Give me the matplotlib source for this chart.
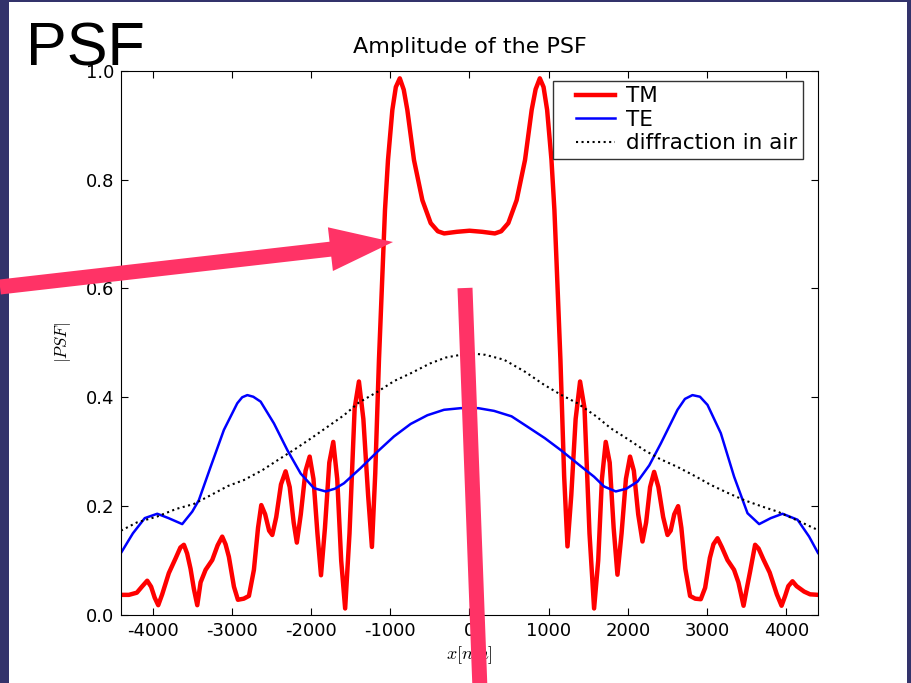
import matplotlib
matplotlib.use('Agg')
import matplotlib.pyplot as plt
from matplotlib.lines import Line2D
from matplotlib.legend_handler import HandlerLine2D
from matplotlib.patches import FancyArrow, Rectangle

# |PSF| for TM polarisation (x in nm)
tm_x = [-4400, -4300, -4200, -4130, -4069, -4020, -3975, -3930, -3880, -3796,
        -3711, -3650, -3606, -3565, -3522, -3480, -3437, -3395, -3332, -3248,
        -3180, -3122, -3080, -3038, -2974, -2924, -2850, -2785, -2722, -2670,
        -2629, -2580, -2530, -2490, -2440, -2380, -2322, -2270, -2220, -2180,
        -2130, -2070, -2018, -1970, -1920, -1875, -1825, -1770, -1720, -1670,
        -1620, -1570, -1515, -1450, -1396, -1340, -1280, -1232, -1190, -1143,
        -1093, -1067, -1029, -974, -930, -880, -830, -785, -701, -595,
        -490, -400, -320, -160, 0,
        160, 320, 400, 490, 595, 701, 785, 835, 888, 935,
        980, 1035, 1072, 1098, 1148, 1195, 1237, 1285, 1340, 1396,
        1452, 1515, 1573, 1625, 1672, 1720, 1770, 1820, 1868, 1920,
        1975, 2027, 2075, 2130, 2184, 2230, 2280, 2331, 2385, 2445,
        2500, 2540, 2585, 2634, 2675, 2725, 2785, 2850, 2920, 2975,
        3035, 3080, 3131, 3185, 3257, 3340, 3395, 3460, 3500, 3543,
        3606, 3650, 3711, 3790, 3880, 3940, 3985, 4025, 4078, 4130,
        4225, 4300, 4400]
tm_y = [0.037, 0.037, 0.041, 0.053, 0.063, 0.052, 0.032, 0.018, 0.038, 0.077,
        0.104, 0.124, 0.129, 0.113, 0.085, 0.048, 0.018, 0.060, 0.083, 0.101,
        0.128, 0.144, 0.130, 0.107, 0.052, 0.028, 0.030, 0.035, 0.083, 0.160,
        0.202, 0.185, 0.155, 0.147, 0.180, 0.240, 0.264, 0.235, 0.170, 0.133,
        0.185, 0.265, 0.291, 0.250, 0.150, 0.073, 0.160, 0.280, 0.318, 0.250,
        0.100, 0.012, 0.150, 0.380, 0.429, 0.360, 0.220, 0.125, 0.260, 0.469,
        0.652, 0.744, 0.836, 0.928, 0.970, 0.986, 0.965, 0.928, 0.836, 0.762,
        0.720, 0.705, 0.701, 0.704, 0.706,
        0.704, 0.701, 0.705, 0.720, 0.762, 0.836, 0.928, 0.966, 0.986, 0.970,
        0.928, 0.836, 0.744, 0.652, 0.469, 0.255, 0.126, 0.220, 0.360, 0.429,
        0.380, 0.150, 0.012, 0.100, 0.250, 0.318, 0.280, 0.160, 0.074, 0.150,
        0.250, 0.291, 0.265, 0.185, 0.135, 0.170, 0.235, 0.263, 0.235, 0.180,
        0.147, 0.155, 0.185, 0.200, 0.160, 0.085, 0.035, 0.030, 0.029, 0.050,
        0.105, 0.130, 0.141, 0.125, 0.101, 0.083, 0.060, 0.017, 0.048, 0.080,
        0.129, 0.122, 0.102, 0.078, 0.038, 0.017, 0.035, 0.053, 0.062, 0.053,
        0.043, 0.038, 0.037]

# |PSF| for TE polarisation
te_x = [-4400, -4250, -4100, -3942, -3800, -3627, -3500, -3417, -3269, -3101,
        -2932, -2870, -2805, -2730, -2637, -2469, -2300, -2132, -1964, -1816,
        -1700, -1585, -1374, -1163, -954, -743, -532, -322, -111, 0,
        111, 310, 531, 731, 950, 1152, 1374, 1573, 1700, 1847,
        1980, 2121, 2270, 2415, 2626, 2720, 2815, 2910, 3005, 3173,
        3341, 3510, 3657, 3804, 3952, 4142, 4288, 4400]
te_y = [0.114, 0.150, 0.178, 0.186, 0.178, 0.167, 0.190, 0.211, 0.272, 0.340,
        0.389, 0.400, 0.404, 0.401, 0.392, 0.352, 0.303, 0.260, 0.233, 0.227,
        0.232, 0.242, 0.270, 0.300, 0.328, 0.351, 0.367, 0.377, 0.380, 0.380,
        0.380, 0.375, 0.365, 0.346, 0.325, 0.303, 0.277, 0.254, 0.236, 0.227,
        0.232, 0.245, 0.275, 0.315, 0.377, 0.397, 0.404, 0.401, 0.386, 0.334,
        0.254, 0.187, 0.167, 0.178, 0.186, 0.175, 0.144, 0.114]

# diffraction limited spot in air
air_x = [-4400, -4200, -3942, -3700, -3480, -3269, -3050, -2848, -2616, -2427,
         -2200, -2006, -1800, -1585, -1400, -1163, -950, -743, -500, -300, 0,
         200, 436, 700, 941, 1150, 1363, 1600, 1784, 2000, 2205,
         2400, 2626, 2850, 3047, 3250, 3468, 3700, 3889, 4150, 4400]
air_y = [0.155, 0.170, 0.181, 0.195, 0.204, 0.220, 0.237, 0.248, 0.266, 0.284,
         0.305, 0.324, 0.345, 0.367, 0.390, 0.410, 0.430, 0.444, 0.462, 0.473, 0.481,
         0.478, 0.469, 0.447, 0.423, 0.405, 0.389, 0.365, 0.343, 0.323, 0.303,
         0.287, 0.272, 0.255, 0.239, 0.225, 0.211, 0.199, 0.190, 0.173, 0.156]

x_ticks = [-4000, -3000, -2000, -1000, 0, 1000, 2000, 3000, 4000]
y_ticks = [0.0, 0.2, 0.4, 0.6, 0.8, 1.0]

plt.rcParams['axes.unicode_minus'] = False
plt.rcParams['mathtext.fontset'] = 'cm'

W, H = 912, 683
fig = plt.figure(figsize=(W / 100, H / 100), dpi=100, facecolor='#33336b')

# white slide area inside the dark frame
fig.add_artist(Rectangle((9 / W, 0), 898 / W, 681 / H, transform=fig.transFigure,
                         facecolor='white', edgecolor='none', zorder=-1))

ax = fig.add_axes([121 / W, 1 - 615 / H, 697 / W, 544.3 / H])
ax.plot(tm_x, tm_y, color='red', lw=3.2, label='TM')
ax.plot(te_x, te_y, color='blue', lw=1.8, label='TE')
ax.plot(air_x, air_y, color='black', lw=1.5, ls=':', label='diffraction in air')

ax.set_xlim(-4400, 4400)
ax.set_ylim(0, 1)
ax.set_xticks(x_ticks)
ax.set_yticks(y_ticks)
ax.tick_params(direction='in', top=True, right=True, length=5, labelsize=13, pad=5)
ax.set_title('Amplitude of the PSF', fontsize=16, pad=13)
ax.set_xlabel('$x[nm]$', fontsize=13, labelpad=3)
ax.set_ylabel('$|PSF|$', fontsize=12, labelpad=9)

leg = ax.legend(loc='upper right', bbox_to_anchor=(0.9785, 0.981), borderaxespad=0,
                fontsize=15.5, fancybox=False, framealpha=1, borderpad=0.25,
                labelspacing=0.16, handlelength=3.44, handletextpad=-0.3,
                handler_map={Line2D: HandlerLine2D(numpoints=2, marker_pad=0.81)})
leg.get_frame().set_edgecolor('#333333')
leg.get_frame().set_linewidth(1)

# slide heading
fig.text(26 / W, 1 - 65 / H, 'PSF', fontsize=44, family='Liberation Sans',
         va='baseline', zorder=10)

# pink pointers drawn on the slide
pink = '#ff3366'
fig.add_artist(FancyArrow(0, (H - 287) / 100, 3.93, 0.45, width=0.15,
                          head_width=0.44, head_length=0.63, length_includes_head=True,
                          transform=fig.dpi_scale_trans, color=pink, lw=0, zorder=11))
fig.add_artist(Line2D([465 / W, 480 / W], [1 - 288 / H, -0.01], transform=fig.transFigure,
                      color=pink, lw=10.8, solid_capstyle='butt', zorder=11))

fig.savefig('out.png', dpi=100, facecolor=fig.get_facecolor())
